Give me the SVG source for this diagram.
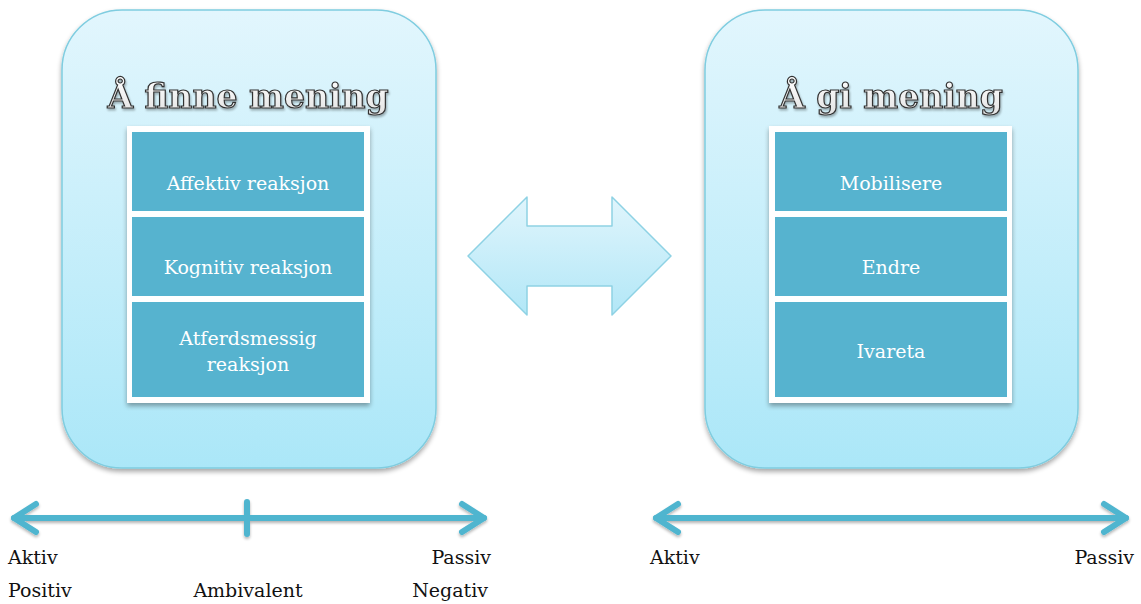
<svg xmlns="http://www.w3.org/2000/svg" width="1141" height="604" viewBox="0 0 1141 604">
  <defs>
    <linearGradient id="panelFill" x1="0" y1="0" x2="0" y2="1">
      <stop offset="0" stop-color="#e2f6fd"/>
      <stop offset="1" stop-color="#abe7f8"/>
    </linearGradient>
    <linearGradient id="arrowFill" x1="0" y1="0" x2="0" y2="1">
      <stop offset="0" stop-color="#e0f5fc"/>
      <stop offset="1" stop-color="#b2e7f7"/>
    </linearGradient>
    <linearGradient id="titleFill" x1="0" y1="0" x2="0" y2="1">
      <stop offset="0" stop-color="#ffffff"/>
      <stop offset="1" stop-color="#e2e2e2"/>
    </linearGradient>
    <filter id="softShadow" x="-10%" y="-10%" width="120%" height="125%">
      <feGaussianBlur in="SourceAlpha" stdDeviation="2.5"/>
      <feOffset dx="0" dy="3" result="b"/>
      <feComponentTransfer><feFuncA type="linear" slope="0.35"/></feComponentTransfer>
      <feMerge><feMergeNode/><feMergeNode in="SourceGraphic"/></feMerge>
    </filter>
    <filter id="lineShadow" x="-5%" y="-50%" width="110%" height="200%">
      <feGaussianBlur in="SourceAlpha" stdDeviation="1.5"/>
      <feOffset dx="0" dy="2" result="b"/>
      <feComponentTransfer><feFuncA type="linear" slope="0.3"/></feComponentTransfer>
      <feMerge><feMergeNode/><feMergeNode in="SourceGraphic"/></feMerge>
    </filter>
    <filter id="titleShadow" x="-5%" y="-20%" width="110%" height="150%">
      <feGaussianBlur in="SourceAlpha" stdDeviation="1"/>
      <feOffset dx="1" dy="1.5" result="b"/>
      <feComponentTransfer><feFuncA type="linear" slope="0.3"/></feComponentTransfer>
      <feMerge><feMergeNode/><feMergeNode in="SourceGraphic"/></feMerge>
    </filter>
    <style>
      .panel { fill: url(#panelFill); stroke: #7fcde0; stroke-width: 1.5; }
      .frame { fill: #ffffff; }
      .cell { fill: #56b3cf; }
      .cellText { font-family: "DejaVu Serif", "Liberation Serif", serif; font-size: 19px; fill: #ffffff; text-anchor: middle; }
      .title { font-family: "DejaVu Serif", "Liberation Serif", serif; font-weight: bold; font-size: 33px; fill: url(#titleFill); stroke: #333333; stroke-width: 1.2; text-anchor: middle; }
      .axis { fill: none; stroke: #50b5cf; stroke-width: 6; stroke-linecap: round; stroke-linejoin: round; }
      .label { font-family: "DejaVu Serif", "Liberation Serif", serif; font-size: 19px; fill: #111111; }
    </style>
  </defs>

  <!-- Left panel: Å finne mening -->
  <g id="finne-mening">
    <rect class="panel" x="62" y="10" width="374" height="458" rx="60" ry="60" filter="url(#softShadow)"/>
    <text class="title" x="248" y="108" filter="url(#titleShadow)">Å finne mening</text>
    <rect class="frame" x="127" y="126" width="243" height="277" filter="url(#softShadow)"/>
  </g>
  <g id="affektiv">
    <rect class="cell" x="132" y="132" width="232" height="79"/>
    <text class="cellText" x="248" y="190">Affektiv reaksjon</text>
  </g>
  <g id="kognitiv">
    <rect class="cell" x="132" y="217" width="232" height="79"/>
    <text class="cellText" x="248" y="274">Kognitiv reaksjon</text>
  </g>
  <g id="atferdsmessig">
    <rect class="cell" x="132" y="302" width="232" height="95"/>
    <text class="cellText" x="248" y="345">Atferdsmessig</text>
    <text class="cellText" x="248" y="371">reaksjon</text>
  </g>

  <!-- Right panel: Å gi mening -->
  <g id="gi-mening">
    <rect class="panel" x="705" y="10" width="373" height="458" rx="60" ry="60" filter="url(#softShadow)"/>
    <text class="title" x="891" y="108" filter="url(#titleShadow)">Å gi mening</text>
    <rect class="frame" x="769" y="126" width="243" height="277" filter="url(#softShadow)"/>
  </g>
  <g id="mobilisere">
    <rect class="cell" x="775" y="132" width="232" height="79"/>
    <text class="cellText" x="891" y="190">Mobilisere</text>
  </g>
  <g id="endre">
    <rect class="cell" x="775" y="217" width="232" height="79"/>
    <text class="cellText" x="891" y="274">Endre</text>
  </g>
  <g id="ivareta">
    <rect class="cell" x="775" y="302" width="232" height="95"/>
    <text class="cellText" x="891" y="358">Ivareta</text>
  </g>

  <!-- Connectors: block double arrow between panels, and the two scales -->
  <g id="connectors">
    <polygon points="468,256 527,197 527,226 612,226 612,197 671,256 612,315 612,286 527,286 527,315"
             fill="url(#arrowFill)" stroke="#8ed2e4" stroke-width="1.5" stroke-linejoin="round"/>

    <g filter="url(#lineShadow)">
      <line class="axis" x1="14" y1="518" x2="484" y2="518"/>
      <polyline class="axis" points="36,504 14,518 36,532"/>
      <polyline class="axis" points="462,504 484,518 462,532"/>
      <line class="axis" x1="247" y1="502" x2="247" y2="534" stroke-linecap="butt" stroke-width="5"/>

      <line class="axis" x1="656" y1="518" x2="1126" y2="518"/>
      <polyline class="axis" points="678,504 656,518 678,532"/>
      <polyline class="axis" points="1104,504 1126,518 1104,532"/>
    </g>
  </g>

  <!-- Scale labels -->
  <g id="scale-labels">
    <text class="label" x="8" y="564">Aktiv</text>
    <text class="label" x="8" y="597">Positiv</text>
    <text class="label" x="248" y="597" text-anchor="middle">Ambivalent</text>
    <text class="label" x="491" y="564" text-anchor="end">Passiv</text>
    <text class="label" x="488" y="597" text-anchor="end">Negativ</text>
    <text class="label" x="650" y="564">Aktiv</text>
    <text class="label" x="1134" y="564" text-anchor="end">Passiv</text>
  </g>
</svg>
